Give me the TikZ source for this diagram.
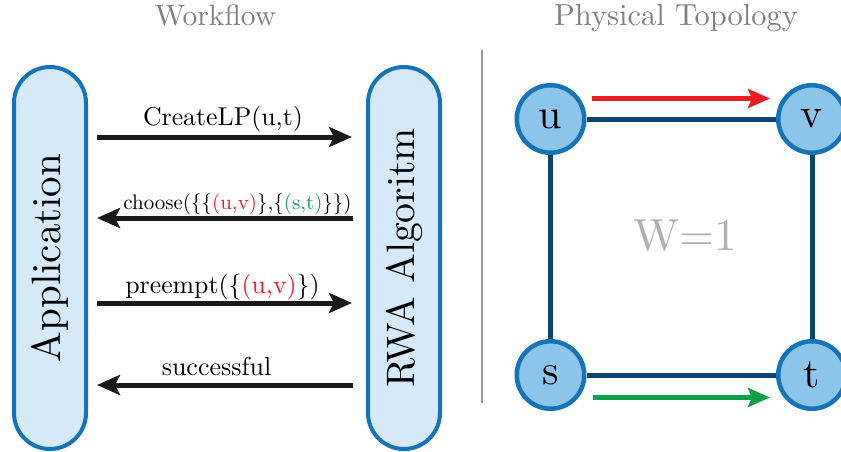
\documentclass[tikz,border=0pt]{standalone}
\usetikzlibrary{arrows.meta,calc}

\definecolor{pillfill}{HTML}{D6E9F8}
\definecolor{pillline}{HTML}{1573BA}
\definecolor{vertexfill}{HTML}{8DC4EA}
\definecolor{linkcol}{HTML}{0A4470}
\definecolor{pathred}{HTML}{ED1C24}
\definecolor{pathgreen}{HTML}{10A048}
\definecolor{msgcol}{HTML}{1A1A1A}
\definecolor{titlegray}{HTML}{808080}
\definecolor{wgray}{HTML}{B0B0B0}

% text set in the 10pt design and magnified
\newcommand{\magtext}[2]{\scalebox{#1}{\fontsize{10}{12}\selectfont #2}}

\tikzset{
  pill/.style={draw=pillline, fill=pillfill, line width=4pt, rotate=90,
    minimum width=382pt, minimum height=72pt, rounded corners=36pt,
    inner sep=0pt},
  msg/.style={draw=msgcol, line width=5pt,
    -{Stealth[length=23pt,width=20pt,inset=5pt]}},
  msglabel/.style={anchor=base, inner sep=0pt},
  title/.style={anchor=base, inner sep=0pt, text=titlegray},
  vertex/.style={circle, draw=pillline, fill=vertexfill, line width=4.5pt,
    minimum size=67.5pt, inner sep=0pt},
  link/.style={draw=linkcol, line width=5pt},
  route/.style={line width=4.5pt, -{Stealth[length=22pt,width=19pt,inset=4pt]}}
}

\begin{document}
\begin{tikzpicture}[x=1pt,y=-1pt]
  \useasboundingbox (0,0) rectangle (841,452);

  % headings
  \node[title] (wftitle) at (215.5,26) {\magtext{2.95}{Workflow}};
  \node[title] (phytitle) at (676,26) {\magtext{3.05}{Physical Topology}};

  % the two communicating parties
  \node[pill] (app) at (50,258) {\magtext{4.1}{Application}};
  \node[pill] (rwa) at (404,258) {\magtext{3.97}{RWA Algoritm}};

  % message exchange
  \draw[msg, shorten <=9pt, shorten >=14pt]
    (app.south |- 0,137) -- (rwa.north |- 0,137);
  \node[msglabel] (m1) at (223,125) {\magtext{2.58}{CreateLP(u,t)}};

  \draw[msg, shorten <=13pt, shorten >=9pt]
    (rwa.north |- 0,218) -- (app.south |- 0,218);
  \node[msglabel] (m2) at (237.5,209.5)
    {\magtext{2.1}{choose(\{\{\textcolor{pathred}{(u,v)}\},\{\textcolor{pathgreen}{(s,t)}\}\})}};

  \draw[msg, shorten <=9pt, shorten >=14pt]
    (app.south |- 0,303) -- (rwa.north |- 0,303);
  \node[msglabel] (m3) at (222.5,293) {\magtext{2.58}{preempt(\{\textcolor{pathred}{(u,v)}\})}};

  \draw[msg, shorten <=13pt, shorten >=9pt]
    (rwa.north |- 0,385) -- (app.south |- 0,385);
  \node[msglabel] (m4) at (216.5,375) {\magtext{2.6}{successful}};

  % separator
  \draw[titlegray!80, line width=2.5pt] (482,50) -- (482,403);

  % topology
  \node[vertex] (u) at (550.5,119) {\magtext{4.2}{u}};
  \node[vertex] (v) at (812,119) {\magtext{4.2}{v}};
  \node[vertex] (s) at (550.5,375) {\magtext{4.2}{s}};
  \node[vertex] (t) at (812,375) {\magtext{4.2}{t}};

  \draw[link] (u) -- (v);
  \draw[link] (v) -- (t);
  \draw[link] (t) -- (s);
  \draw[link] (s) -- (u);

  \node[text=wgray, inner sep=0pt] (w) at (685,236) {\magtext{4.5}{W=1}};

  % lightpaths
  \draw[route, pathred] ($(u)+(41.5,-20.5)$) -- ($(v)+(-42,-20.5)$);
  \draw[route, pathgreen] ($(s)+(42.5,22.5)$) -- ($(t)+(-42,22.5)$);
\end{tikzpicture}
\end{document}
